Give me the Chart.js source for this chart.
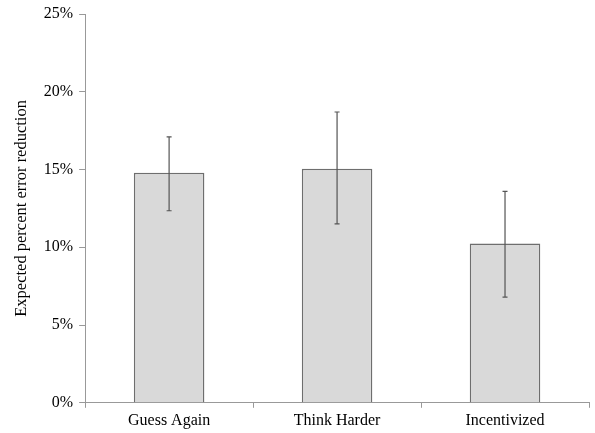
<!DOCTYPE html>
<html>
<head>
<meta charset="utf-8">
<script src="https://cdn.jsdelivr.net/npm/chart.js@4.4.0/dist/chart.umd.min.js"></script>
<style>
  body { margin: 0; background: #fff; }
</style>
</head>
<body>
<canvas id="errChart" width="595" height="433"></canvas>
<script>
/* ============================================================
   DATA
   ============================================================ */
const categories = ["Guess Again", "Think Harder", "Incentivized"];
const meanReduction = [14.8, 15.05, 10.25];
const errorHigh = [17.1, 18.7, 13.6];
const errorLow = [12.35, 11.5, 6.8];
const yTicks = [0, 5, 10, 15, 20, 25];

/* ============================================================
   ERROR BARS (drawn through the y scale)
   ============================================================ */
const errorBarPlugin = {
    id: "errorBars",
    afterDatasetsDraw(chart) {
        const ctx = chart.ctx;
        const yScale = chart.scales.y;
        const meta = chart.getDatasetMeta(0);

        ctx.save();
        ctx.strokeStyle = "#555";
        ctx.lineWidth = 1.2;

        meta.data.forEach((bar, i) => {
            const x = bar.x;
            const top = yScale.getPixelForValue(errorHigh[i]);
            const bottom = yScale.getPixelForValue(errorLow[i]);

            ctx.beginPath();
            ctx.moveTo(x, top);
            ctx.lineTo(x, bottom);
            ctx.moveTo(x - 2.5, top);
            ctx.lineTo(x + 2.5, top);
            ctx.moveTo(x - 2.5, bottom);
            ctx.lineTo(x + 2.5, bottom);
            ctx.stroke();
        });

        ctx.restore();
    }
};

const fontFamily = "'Liberation Serif', 'Times New Roman', serif";

new Chart(document.getElementById("errChart"), {
    type: "bar",
    data: {
        labels: categories,
        datasets: [{
            data: meanReduction,
            backgroundColor: "#d9d9d9",
            borderColor: "#6e6e6e",
            borderWidth: 1.5,
            borderSkipped: "bottom",
            barPercentage: 0.42,
            categoryPercentage: 1.0
        }]
    },
    options: {
        responsive: false,
        animation: false,
        layout: { padding: { top: 1, right: 6, left: 8, bottom: 0 } },
        plugins: {
            legend: { display: false },
            tooltip: { enabled: false }
        },
        scales: {
            x: {
                offset: true,
                grid: {
                    offset: true,
                    drawOnChartArea: false,
                    drawTicks: true,
                    tickLength: 5,
                    color: "#999"
                },
                border: { color: "#999", width: 1 },
                ticks: {
                    color: "#000",
                    font: { family: fontFamily, size: 16 },
                    padding: 3
                }
            },
            y: {
                min: 0,
                max: 25,
                afterBuildTicks: axis => {
                    axis.ticks = yTicks.map(v => ({ value: v }));
                },
                grid: {
                    drawOnChartArea: false,
                    drawTicks: true,
                    tickLength: 6,
                    color: "#999"
                },
                border: { color: "#999", width: 1 },
                ticks: {
                    color: "#000",
                    font: { family: fontFamily, size: 16, lineHeight: 1 },
                    padding: 6,
                    callback: v => v + "%"
                },
                title: {
                    display: true,
                    text: "Expected percent error reduction",
                    color: "#000",
                    font: { family: fontFamily, size: 16.5 },
                    padding: { bottom: 6 }
                }
            }
        }
    },
    plugins: [errorBarPlugin]
});
</script>
</body>
</html>
